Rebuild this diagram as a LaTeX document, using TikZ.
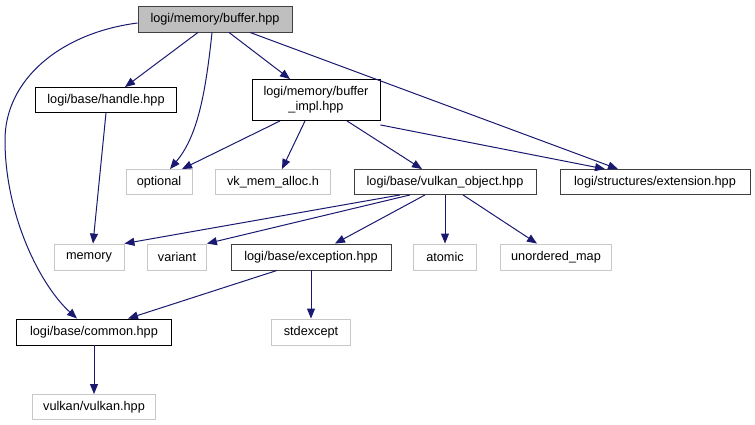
\documentclass[tikz,border=0pt]{standalone}
\usepackage{fontspec}
\setmainfont{Liberation Sans}
\usetikzlibrary{arrows.meta, positioning, calc}
\definecolor{edgeblue}{HTML}{191970}
\definecolor{curfill}{HTML}{BFBFBF}
\definecolor{docborder}{HTML}{404040}
\definecolor{sysborder}{HTML}{C8C8C8}

\begin{document}
\begin{tikzpicture}[x=1pt, y=-1pt,
    doc/.style={draw=black, fill=white, inner sep=0pt, minimum height=25pt,
      line width=0.9pt, align=center, font=\fontsize{12.7}{15}\selectfont},
    sys/.style={doc, draw=sysborder},
    dep/.style={->, draw=edgeblue, line width=1pt},
    >={Triangle[length=10pt, width=8pt]}
  ]
  \useasboundingbox (0,0) rectangle (755,425);

  % files included directly
  \node[doc, fill=curfill, draw=docborder, minimum width=154pt, minimum height=26pt]
    (buffer) at (215,19) {logi/memory/buffer.hpp};
  \node[doc, minimum width=141pt] (handle) at (106,100) {logi/base/handle.hpp};
  \node[doc, minimum width=128pt, minimum height=41pt] (impl) at (316,100)
    {logi/memory/buffer\\\_impl.hpp};

  % second row
  \node[sys, minimum width=66pt] (optional) at (159,182) {optional};
  \node[sys, minimum width=115pt] (vkmem) at (273,182) {vk\_mem\_alloc.h};
  \node[doc, draw=docborder, minimum width=182pt] (vobj) at (445,182)
    {logi/base/vulkan\_object.hpp};
  \node[doc, draw=docborder, minimum width=190pt] (extension) at (655,182)
    {logi/structures/extension.hpp};

  % third row
  \node[sys, minimum width=70pt, minimum height=26pt] (memory) at (89,257) {memory};
  \node[sys, minimum width=59pt, minimum height=26pt] (variant) at (177,257) {variant};
  \node[doc, draw=docborder, minimum width=160pt, minimum height=26pt]
    (exception) at (311,257) {logi/base/exception.hpp};
  \node[sys, minimum width=63pt, minimum height=26pt] (atomic) at (445,257) {atomic};
  \node[sys, minimum width=111pt, minimum height=26pt] (umap) at (556,257)
    {unordered\_map};

  % bottom rows
  \node[doc, minimum width=155pt, minimum height=26pt] (common) at (94,332)
    {logi/base/common.hpp};
  \node[sys, minimum width=79pt, minimum height=26pt] (stdexcept) at (311,332)
    {stdexcept};
  \node[sys, minimum width=123pt] (vulkanhpp) at (94,407) {vulkan/vulkan.hpp};

  % edges from buffer.hpp
  \draw[dep] ([yshift=-4pt]buffer.west) .. controls (60,33) and (5,80) .. (5,140)
    .. controls (5,215) and (40,285) .. ([xshift=-17pt]common.north);
  \draw[dep] ([xshift=-17pt]buffer.south) -- ([xshift=19pt]handle.north);
  \draw[dep] ([xshift=-3pt]buffer.south) .. controls (205,100) and (196,138)
    .. ([xshift=11pt]optional.north);
  \draw[dep] ([xshift=14pt]buffer.south) -- ([xshift=-26pt]impl.north);
  \draw[dep] ([xshift=35pt]buffer.south) -- ([xshift=-37pt]extension.north);

  % edges from buffer_impl.hpp
  \draw[dep] ([xshift=-36pt]impl.south) -- ([xshift=23pt]optional.north);
  \draw[dep] ([xshift=-11pt]impl.south) -- ([xshift=9pt]vkmem.north);
  \draw[dep] ([xshift=31pt]impl.south) -- ([xshift=-23pt]vobj.north);
  \draw[dep] ([yshift=-4pt]impl.south east) -- ([xshift=-50pt]extension.north);

  \draw[dep] (handle.south) -- ([xshift=4pt]memory.north);

  % edges from vulkan_object.hpp
  \draw[dep] ([xshift=-45pt]vobj.south) -- (memory.north east);
  \draw[dep] ([xshift=-35pt]vobj.south) -- (variant.north east);
  \draw[dep] ([xshift=-20pt]vobj.south) -- ([xshift=24pt]exception.north);
  \draw[dep] (vobj.south) -- (atomic.north);
  \draw[dep] ([xshift=18pt]vobj.south) -- ([xshift=-19pt]umap.north);

  \draw[dep] ([xshift=-34pt]exception.south) -- ([xshift=34pt]common.north);
  \draw[dep] (exception.south) -- (stdexcept.north);
  \draw[dep] (common.south) -- (vulkanhpp.north);
\end{tikzpicture}
\end{document}
